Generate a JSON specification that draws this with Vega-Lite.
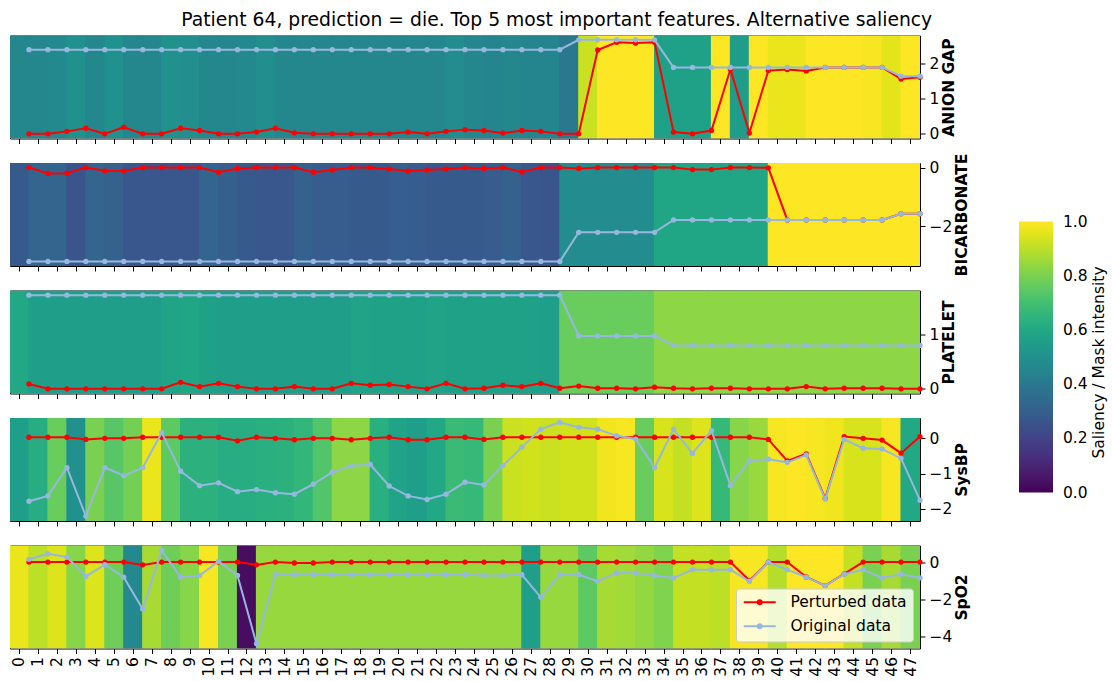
{
  "$schema": "https://vega.github.io/schema/vega-lite/v6.json",
  "padding": {"left": 9, "top": 10.5, "right": 0, "bottom": 0},
  "background": "white",
  "title": {"text": "Patient 64, prediction = die. Top 5 most important features. Alternative saliency", "fontSize": 18.75, "fontWeight": "normal", "font": "DejaVu Sans", "color": "#000", "offset": 5, "anchor": "middle", "dx": -2},
  "bounds": "flush",
  "spacing": 24.5,
  "datasets": {
    "ag": [
      {"t":0,"s":0.46,"p":0,"o":2.41},{"t":1,"s":0.46,"p":0,"o":2.41},{"t":2,"s":0.47,"p":0.07,"o":2.41},{"t":3,"s":0.5,"p":0.16,"o":2.41},
      {"t":4,"s":0.46,"p":0,"o":2.41},{"t":5,"s":0.5,"p":0.19,"o":2.41},{"t":6,"s":0.46,"p":0,"o":2.41},{"t":7,"s":0.46,"p":0,"o":2.41},
      {"t":8,"s":0.5,"p":0.16,"o":2.41},{"t":9,"s":0.49,"p":0.095,"o":2.41},{"t":10,"s":0.46,"p":0,"o":2.41},{"t":11,"s":0.46,"p":0,"o":2.41},
      {"t":12,"s":0.47,"p":0.05,"o":2.41},{"t":13,"s":0.49,"p":0.16,"o":2.41},{"t":14,"s":0.46,"p":0.03,"o":2.41},{"t":15,"s":0.46,"p":0,"o":2.41},
      {"t":16,"s":0.46,"p":0,"o":2.41},{"t":17,"s":0.46,"p":0,"o":2.41},{"t":18,"s":0.46,"p":0,"o":2.41},{"t":19,"s":0.46,"p":0,"o":2.41},
      {"t":20,"s":0.46,"p":0.05,"o":2.41},{"t":21,"s":0.46,"p":0,"o":2.41},{"t":22,"s":0.46,"p":0.07,"o":2.41},{"t":23,"s":0.48,"p":0.12,"o":2.41},
      {"t":24,"s":0.46,"p":0.095,"o":2.41},{"t":25,"s":0.45,"p":0.02,"o":2.41},{"t":26,"s":0.46,"p":0.095,"o":2.41},{"t":27,"s":0.45,"p":0.07,"o":2.41},
      {"t":28,"s":0.45,"p":0,"o":2.41},{"t":29,"s":0.4,"p":0,"o":2.69},{"t":30,"s":0.92,"p":2.4,"o":2.69},{"t":31,"s":1.0,"p":2.62,"o":2.69},
      {"t":32,"s":1.0,"p":2.6,"o":2.69},{"t":33,"s":1.0,"p":2.62,"o":2.69},{"t":34,"s":0.57,"p":0.05,"o":1.9},{"t":35,"s":0.57,"p":0,"o":1.9},
      {"t":36,"s":0.57,"p":0.095,"o":1.9},{"t":37,"s":1.0,"p":1.85,"o":1.9},{"t":38,"s":0.55,"p":0.02,"o":1.9},{"t":39,"s":1.0,"p":1.81,"o":1.9},
      {"t":40,"s":0.97,"p":1.84,"o":1.9},{"t":41,"s":0.97,"p":1.8,"o":1.9},{"t":42,"s":1.0,"p":1.9,"o":1.9},{"t":43,"s":1.0,"p":1.9,"o":1.9},
      {"t":44,"s":1.0,"p":1.9,"o":1.9},{"t":45,"s":0.99,"p":1.9,"o":1.9},{"t":46,"s":0.96,"p":1.57,"o":1.65},{"t":47,"s":1.0,"p":1.62,"o":1.65}
    ],
    "bi": [
      {"t":0,"s":0.28,"p":0,"o":-3.19},{"t":1,"s":0.32,"p":-0.2,"o":-3.19},{"t":2,"s":0.32,"p":-0.19,"o":-3.19},{"t":3,"s":0.26,"p":0,"o":-3.19},
      {"t":4,"s":0.32,"p":-0.11,"o":-3.19},{"t":5,"s":0.31,"p":-0.12,"o":-3.19},{"t":6,"s":0.27,"p":0,"o":-3.19},{"t":7,"s":0.27,"p":0,"o":-3.19},
      {"t":8,"s":0.27,"p":0,"o":-3.19},{"t":9,"s":0.27,"p":0,"o":-3.19},{"t":10,"s":0.32,"p":-0.16,"o":-3.19},{"t":11,"s":0.3,"p":-0.03,"o":-3.19},
      {"t":12,"s":0.28,"p":0,"o":-3.19},{"t":13,"s":0.27,"p":0,"o":-3.19},{"t":14,"s":0.27,"p":0,"o":-3.19},{"t":15,"s":0.31,"p":-0.16,"o":-3.19},
      {"t":16,"s":0.29,"p":-0.08,"o":-3.19},{"t":17,"s":0.29,"p":0,"o":-3.19},{"t":18,"s":0.28,"p":0,"o":-3.19},{"t":19,"s":0.28,"p":-0.05,"o":-3.19},
      {"t":20,"s":0.3,"p":-0.12,"o":-3.19},{"t":21,"s":0.29,"p":-0.08,"o":-3.19},{"t":22,"s":0.28,"p":-0.05,"o":-3.19},{"t":23,"s":0.28,"p":0,"o":-3.19},
      {"t":24,"s":0.28,"p":-0.03,"o":-3.19},{"t":25,"s":0.29,"p":0,"o":-3.19},{"t":26,"s":0.31,"p":-0.15,"o":-3.19},{"t":27,"s":0.27,"p":0,"o":-3.19},
      {"t":28,"s":0.26,"p":0,"o":-3.19},{"t":29,"s":0.48,"p":-0.03,"o":-2.2},{"t":30,"s":0.48,"p":0,"o":-2.2},{"t":31,"s":0.48,"p":0,"o":-2.2},
      {"t":32,"s":0.48,"p":0,"o":-2.2},{"t":33,"s":0.48,"p":0,"o":-2.2},{"t":34,"s":0.59,"p":0,"o":-1.78},{"t":35,"s":0.59,"p":-0.07,"o":-1.78},
      {"t":36,"s":0.59,"p":-0.07,"o":-1.78},{"t":37,"s":0.59,"p":0,"o":-1.78},{"t":38,"s":0.59,"p":0,"o":-1.78},{"t":39,"s":0.59,"p":-0.01,"o":-1.78},
      {"t":40,"s":1.0,"p":-1.78,"o":-1.78},{"t":41,"s":1.0,"p":-1.78,"o":-1.78},{"t":42,"s":1.0,"p":-1.78,"o":-1.78},{"t":43,"s":1.0,"p":-1.78,"o":-1.78},
      {"t":44,"s":1.0,"p":-1.78,"o":-1.78},{"t":45,"s":1.0,"p":-1.78,"o":-1.78},{"t":46,"s":1.0,"p":-1.57,"o":-1.57},{"t":47,"s":1.0,"p":-1.57,"o":-1.57}
    ],
    "pl": [
      {"t":0,"s":0.6,"p":0.09,"o":1.728},{"t":1,"s":0.56,"p":0,"o":1.728},{"t":2,"s":0.56,"p":0,"o":1.728},{"t":3,"s":0.56,"p":0,"o":1.728},
      {"t":4,"s":0.56,"p":0,"o":1.728},{"t":5,"s":0.56,"p":0,"o":1.728},{"t":6,"s":0.56,"p":0,"o":1.728},{"t":7,"s":0.56,"p":0,"o":1.728},
      {"t":8,"s":0.58,"p":0.12,"o":1.728},{"t":9,"s":0.59,"p":0.04,"o":1.728},{"t":10,"s":0.57,"p":0.1,"o":1.728},{"t":11,"s":0.56,"p":0.04,"o":1.728},
      {"t":12,"s":0.56,"p":0,"o":1.728},{"t":13,"s":0.56,"p":0,"o":1.728},{"t":14,"s":0.56,"p":0.04,"o":1.728},{"t":15,"s":0.56,"p":0,"o":1.728},
      {"t":16,"s":0.56,"p":0,"o":1.728},{"t":17,"s":0.56,"p":0.1,"o":1.728},{"t":18,"s":0.58,"p":0.065,"o":1.728},{"t":19,"s":0.57,"p":0.08,"o":1.728},
      {"t":20,"s":0.57,"p":0.04,"o":1.728},{"t":21,"s":0.57,"p":0,"o":1.728},{"t":22,"s":0.58,"p":0.1,"o":1.728},{"t":23,"s":0.57,"p":0,"o":1.728},
      {"t":24,"s":0.57,"p":0.01,"o":1.728},{"t":25,"s":0.57,"p":0.065,"o":1.728},{"t":26,"s":0.57,"p":0.04,"o":1.728},{"t":27,"s":0.57,"p":0.1,"o":1.728},
      {"t":28,"s":0.56,"p":0.01,"o":1.728},{"t":29,"s":0.77,"p":0.05,"o":0.975},{"t":30,"s":0.77,"p":0.01,"o":0.975},{"t":31,"s":0.77,"p":0.01,"o":0.975},
      {"t":32,"s":0.77,"p":0,"o":0.975},{"t":33,"s":0.77,"p":0.03,"o":0.975},{"t":34,"s":0.83,"p":0.01,"o":0.8},{"t":35,"s":0.83,"p":0,"o":0.8},
      {"t":36,"s":0.83,"p":0.01,"o":0.8},{"t":37,"s":0.83,"p":0.01,"o":0.8},{"t":38,"s":0.83,"p":0,"o":0.8},{"t":39,"s":0.83,"p":0,"o":0.8},
      {"t":40,"s":0.83,"p":0,"o":0.8},{"t":41,"s":0.83,"p":0.04,"o":0.8},{"t":42,"s":0.83,"p":0,"o":0.8},{"t":43,"s":0.83,"p":0.01,"o":0.8},
      {"t":44,"s":0.83,"p":0.01,"o":0.8},{"t":45,"s":0.83,"p":0.01,"o":0.8},{"t":46,"s":0.83,"p":0,"o":0.8},{"t":47,"s":0.83,"p":0,"o":0.8}
    ],
    "sb": [
      {"t":0,"s":0.56,"p":0.03,"o":-1.78},{"t":1,"s":0.62,"p":0.03,"o":-1.63},{"t":2,"s":0.77,"p":0.03,"o":-0.83},{"t":3,"s":0.5,"p":-0.03,"o":-2.2},
      {"t":4,"s":0.8,"p":0,"o":-0.83},{"t":5,"s":0.74,"p":0,"o":-1.06},{"t":6,"s":0.79,"p":0.03,"o":-0.83},{"t":7,"s":0.97,"p":0.03,"o":0.16},
      {"t":8,"s":0.75,"p":0.03,"o":-0.93},{"t":9,"s":0.64,"p":0.03,"o":-1.34},{"t":10,"s":0.64,"p":0.03,"o":-1.26},{"t":11,"s":0.62,"p":-0.07,"o":-1.51},
      {"t":12,"s":0.62,"p":0.03,"o":-1.45},{"t":13,"s":0.63,"p":0,"o":-1.54},{"t":14,"s":0.64,"p":-0.04,"o":-1.58},{"t":15,"s":0.66,"p":0,"o":-1.3},
      {"t":16,"s":0.73,"p":0,"o":-0.96},{"t":17,"s":0.83,"p":-0.04,"o":-0.78},{"t":18,"s":0.83,"p":0,"o":-0.74},{"t":19,"s":0.63,"p":0.03,"o":-1.35},
      {"t":20,"s":0.58,"p":-0.04,"o":-1.63},{"t":21,"s":0.56,"p":-0.04,"o":-1.73},{"t":22,"s":0.6,"p":0.03,"o":-1.58},{"t":23,"s":0.68,"p":0.03,"o":-1.24},
      {"t":24,"s":0.67,"p":-0.03,"o":-1.32},{"t":25,"s":0.8,"p":0.03,"o":-0.77},{"t":26,"s":0.92,"p":0.03,"o":-0.25},{"t":27,"s":0.93,"p":0.03,"o":0.26},
      {"t":28,"s":0.92,"p":0.03,"o":0.45},{"t":29,"s":0.93,"p":0.03,"o":0.31},{"t":30,"s":0.93,"p":0.03,"o":0.26},{"t":31,"s":0.98,"p":0.03,"o":0.07},
      {"t":32,"s":0.99,"p":0.03,"o":-0.02},{"t":33,"s":0.77,"p":0.03,"o":-0.83},{"t":34,"s":0.94,"p":0.03,"o":0.26},{"t":35,"s":0.91,"p":0.03,"o":-0.43},
      {"t":36,"s":0.95,"p":0.03,"o":0.22},{"t":37,"s":0.67,"p":0.03,"o":-1.34},{"t":38,"s":0.82,"p":0.03,"o":-0.64},{"t":39,"s":0.85,"p":-0.03,"o":-0.59},
      {"t":40,"s":0.99,"p":-0.64,"o":-0.68},{"t":41,"s":1.0,"p":-0.44,"o":-0.47},{"t":42,"s":0.99,"p":-1.7,"o":-1.72},{"t":43,"s":0.98,"p":0.05,"o":-0.03},
      {"t":44,"s":0.94,"p":0,"o":-0.28},{"t":45,"s":0.94,"p":-0.05,"o":-0.3},{"t":46,"s":0.99,"p":-0.42,"o":-0.57},{"t":47,"s":0.6,"p":0.05,"o":-1.75}
    ],
    "sp": [
      {"t":0,"s":0.97,"p":0,"o":0.15},{"t":1,"s":0.9,"p":0,"o":0.45},{"t":2,"s":0.95,"p":0,"o":0.27},{"t":3,"s":0.82,"p":0,"o":-0.77},
      {"t":4,"s":0.95,"p":0,"o":-0.14},{"t":5,"s":0.78,"p":0,"o":-0.81},{"t":6,"s":0.47,"p":-0.15,"o":-2.52},{"t":7,"s":0.87,"p":0,"o":0.63},
      {"t":8,"s":0.78,"p":0,"o":-0.81},{"t":9,"s":0.82,"p":0,"o":-0.72},{"t":10,"s":0.99,"p":0,"o":0.04},{"t":11,"s":0.8,"p":0,"o":-0.72},
      {"t":12,"s":0.03,"p":-0.15,"o":-4.38},{"t":13,"s":0.845,"p":0,"o":-0.68},{"t":14,"s":0.845,"p":-0.05,"o":-0.68},{"t":15,"s":0.845,"p":-0.05,"o":-0.68},
      {"t":16,"s":0.845,"p":0,"o":-0.68},{"t":17,"s":0.845,"p":0,"o":-0.68},{"t":18,"s":0.845,"p":0,"o":-0.68},{"t":19,"s":0.845,"p":0,"o":-0.68},
      {"t":20,"s":0.845,"p":0,"o":-0.68},{"t":21,"s":0.845,"p":0,"o":-0.68},{"t":22,"s":0.845,"p":0,"o":-0.68},{"t":23,"s":0.845,"p":0,"o":-0.68},
      {"t":24,"s":0.845,"p":0,"o":-0.72},{"t":25,"s":0.845,"p":0,"o":-0.72},{"t":26,"s":0.845,"p":0,"o":-0.68},{"t":27,"s":0.56,"p":0,"o":-1.89},
      {"t":28,"s":0.845,"p":0,"o":-0.68},{"t":29,"s":0.845,"p":0,"o":-0.68},{"t":30,"s":0.75,"p":0,"o":-1.03},{"t":31,"s":0.87,"p":0,"o":-0.58},
      {"t":32,"s":0.86,"p":0,"o":-0.58},{"t":33,"s":0.84,"p":0,"o":-0.72},{"t":34,"s":0.81,"p":0,"o":-0.85},{"t":35,"s":0.91,"p":0,"o":-0.41},
      {"t":36,"s":0.91,"p":0,"o":-0.41},{"t":37,"s":0.9,"p":0,"o":-0.41},{"t":38,"s":0.99,"p":-0.99,"o":-1.03},{"t":39,"s":0.99,"p":0,"o":0},
      {"t":40,"s":0.89,"p":0,"o":-0.41},{"t":41,"s":1.0,"p":-0.8,"o":-0.81},{"t":42,"s":1.0,"p":-1.26,"o":-1.26},{"t":43,"s":1.0,"p":-0.63,"o":-0.65},
      {"t":44,"s":0.91,"p":0,"o":-0.41},{"t":45,"s":0.8,"p":0,"o":-0.85},{"t":46,"s":0.87,"p":0,"o":-0.65},{"t":47,"s":0.8,"p":0,"o":-0.85}
    ]
  },
  "vconcat": [
    {
      "width": 910, "height": 103,
      "data": {"name": "ag"},
      "layer": [
        {"mark": {"type": "rect", "clip": true, "width": {"band": 1.06}},
         "encoding": {
           "x": {"field": "t", "type": "ordinal", "scale": {"paddingInner": 0, "paddingOuter": 0}, "axis": {"title": null, "labels": false}},
           "fill": {"field": "s", "type": "quantitative", "scale": {"scheme": "viridis", "domain": [0, 1]},
             "legend": {"type": "gradient", "orient": "none", "legendX": 1009, "legendY": 186, "direction": "vertical", "gradientLength": 271, "gradientThickness": 34, "gradientStrokeWidth": 0, "values": [0, 0.2, 0.4, 0.6, 0.8, 1], "format": ".1f", "labelFontSize": 15.5, "labelOffset": 10, "title": "Saliency / Mask intensity", "titleLimit": 500, "titleOrient": "right", "titleFontSize": 15.5, "titleFontWeight": "normal", "titleAnchor": "middle", "titlePadding": 8,
               "encoding": {"title": {"angle": {"value": 270}, "dy": {"value": 11}, "dx": {"value": -5}}, "labels": {"baseline": {"value": "middle"}}}}}
         }},
        {"mark": {"type": "line", "strokeWidth": 2, "point": {"filled": true, "size": 28}},
         "encoding": {
           "x": {"field": "t", "type": "quantitative", "scale": {"domain": [-1, 47], "nice": false, "zero": false}, "axis": null},
           "y": {"field": "p", "type": "quantitative", "scale": {"domain": [-0.134, 2.815], "nice": false, "zero": false}, "axis": {"orient": "right", "values": [0, 1, 2], "title": "ANION GAP"}},
           "color": {"datum": "Perturbed data", "type": "nominal", "scale": {"domain": ["Perturbed data", "Original data"], "range": ["#ff0000", "#96b8df"]},
             "legend": {"orient": "none", "legendX": 726, "legendY": 553, "title": null, "symbolType": "M-1.2,0H5.2M1.6,0A0.4,0.4,0,1,1,2.4,0A0.4,0.4,0,1,1,1.6,0", "symbolSize": 100, "symbolStrokeWidth": 2, "labelFontSize": 15.5, "labelOffset": 33, "padding": 6, "rowPadding": 7, "fillColor": "rgba(255,255,255,0.8)", "strokeColor": "#cccccc", "cornerRadius": 3, "labelLimit": 300}}
         }},
        {"mark": {"type": "line", "strokeWidth": 2, "point": {"filled": true, "size": 28}},
         "encoding": {
           "x": {"field": "t", "type": "quantitative", "scale": {"domain": [-1, 47], "nice": false, "zero": false}, "axis": null},
           "y": {"field": "o", "type": "quantitative"},
           "color": {"datum": "Original data", "type": "nominal"}
         }}
      ],
      "resolve": {"scale": {"x": "independent"}}
    },
    {
      "width": 910, "height": 103,
      "data": {"name": "bi"},
      "layer": [
        {"mark": {"type": "rect", "clip": true, "width": {"band": 1.06}},
         "encoding": {
           "x": {"field": "t", "type": "ordinal", "scale": {"paddingInner": 0, "paddingOuter": 0}, "axis": {"title": null, "labels": false}},
           "fill": {"field": "s", "type": "quantitative"}
         }},
        {"mark": {"type": "line", "strokeWidth": 2, "point": {"filled": true, "size": 28}},
         "encoding": {
           "x": {"field": "t", "type": "quantitative", "scale": {"domain": [-1, 47], "nice": false, "zero": false}, "axis": null},
           "y": {"field": "p", "type": "quantitative", "scale": {"domain": [-3.345, 0.155], "nice": false, "zero": false}, "axis": {"orient": "right", "values": [0, -2], "title": "BICARBONATE"}},
           "color": {"datum": "Perturbed data", "type": "nominal"}
         }},
        {"mark": {"type": "line", "strokeWidth": 2, "point": {"filled": true, "size": 28}},
         "encoding": {
           "x": {"field": "t", "type": "quantitative", "scale": {"domain": [-1, 47], "nice": false, "zero": false}, "axis": null},
           "y": {"field": "o", "type": "quantitative"},
           "color": {"datum": "Original data", "type": "nominal"}
         }}
      ],
      "resolve": {"scale": {"x": "independent"}}
    },
    {
      "width": 910, "height": 103,
      "data": {"name": "pl"},
      "layer": [
        {"mark": {"type": "rect", "clip": true, "width": {"band": 1.06}},
         "encoding": {
           "x": {"field": "t", "type": "ordinal", "scale": {"paddingInner": 0, "paddingOuter": 0}, "axis": {"title": null, "labels": false}},
           "fill": {"field": "s", "type": "quantitative"}
         }},
        {"mark": {"type": "line", "strokeWidth": 2, "point": {"filled": true, "size": 28}},
         "encoding": {
           "x": {"field": "t", "type": "quantitative", "scale": {"domain": [-1, 47], "nice": false, "zero": false}, "axis": null},
           "y": {"field": "p", "type": "quantitative", "scale": {"domain": [-0.087, 1.815], "nice": false, "zero": false}, "axis": {"orient": "right", "values": [0, 1], "title": "PLATELET"}},
           "color": {"datum": "Perturbed data", "type": "nominal"}
         }},
        {"mark": {"type": "line", "strokeWidth": 2, "point": {"filled": true, "size": 28}},
         "encoding": {
           "x": {"field": "t", "type": "quantitative", "scale": {"domain": [-1, 47], "nice": false, "zero": false}, "axis": null},
           "y": {"field": "o", "type": "quantitative"},
           "color": {"datum": "Original data", "type": "nominal"}
         }}
      ],
      "resolve": {"scale": {"x": "independent"}}
    },
    {
      "width": 910, "height": 103,
      "data": {"name": "sb"},
      "layer": [
        {"mark": {"type": "rect", "clip": true, "width": {"band": 1.06}},
         "encoding": {
           "x": {"field": "t", "type": "ordinal", "scale": {"paddingInner": 0, "paddingOuter": 0}, "axis": {"title": null, "labels": false}},
           "fill": {"field": "s", "type": "quantitative"}
         }},
        {"mark": {"type": "line", "strokeWidth": 2, "point": {"filled": true, "size": 28}},
         "encoding": {
           "x": {"field": "t", "type": "quantitative", "scale": {"domain": [-1, 47], "nice": false, "zero": false}, "axis": null},
           "y": {"field": "p", "type": "quantitative", "scale": {"domain": [-2.34, 0.575], "nice": false, "zero": false}, "axis": {"orient": "right", "values": [0, -1, -2], "title": "SysBP"}},
           "color": {"datum": "Perturbed data", "type": "nominal"}
         }},
        {"mark": {"type": "line", "strokeWidth": 2, "point": {"filled": true, "size": 28}},
         "encoding": {
           "x": {"field": "t", "type": "quantitative", "scale": {"domain": [-1, 47], "nice": false, "zero": false}, "axis": null},
           "y": {"field": "o", "type": "quantitative"},
           "color": {"datum": "Original data", "type": "nominal"}
         }}
      ],
      "resolve": {"scale": {"x": "independent"}}
    },
    {
      "width": 910, "height": 103,
      "data": {"name": "sp"},
      "layer": [
        {"mark": {"type": "rect", "clip": true, "width": {"band": 1.06}},
         "encoding": {
           "x": {"field": "t", "type": "ordinal", "scale": {"paddingInner": 0, "paddingOuter": 0}, "axis": {"title": null, "labelAngle": 270, "labelPadding": 3}},
           "fill": {"field": "s", "type": "quantitative"}
         }},
        {"mark": {"type": "line", "strokeWidth": 2, "point": {"filled": true, "size": 28}},
         "encoding": {
           "x": {"field": "t", "type": "quantitative", "scale": {"domain": [-1, 47], "nice": false, "zero": false}, "axis": null},
           "y": {"field": "p", "type": "quantitative", "scale": {"domain": [-4.64, 0.89], "nice": false, "zero": false}, "axis": {"orient": "right", "values": [0, -2, -4], "title": "SpO2"}},
           "color": {"datum": "Perturbed data", "type": "nominal"}
         }},
        {"mark": {"type": "line", "strokeWidth": 2, "point": {"filled": true, "size": 28}},
         "encoding": {
           "x": {"field": "t", "type": "quantitative", "scale": {"domain": [-1, 47], "nice": false, "zero": false}, "axis": null},
           "y": {"field": "o", "type": "quantitative"},
           "color": {"datum": "Original data", "type": "nominal"}
         }}
      ],
      "resolve": {"scale": {"x": "independent"}}
    }
  ],
  "resolve": {"scale": {"fill": "shared", "color": "shared"}},
  "config": {
    "font": "DejaVu Sans",
    "view": {"stroke": "#000", "strokeWidth": 1},
    "axis": {"domain": false, "grid": false, "tickColor": "#000", "tickSize": 5, "tickWidth": 1, "labelColor": "#000", "labelFont": "DejaVu Sans", "labelFontSize": 15.5, "labelPadding": 4, "titleColor": "#000", "titleFont": "DejaVu Sans"},
    "axisY": {"format": "d", "titleFontWeight": "bold", "titleFontSize": 15.5, "titleAngle": 270, "titleBaseline": "top", "titlePadding": 3},
    "legend": {"labelColor": "#000", "labelFont": "DejaVu Sans", "titleColor": "#000", "titleFont": "DejaVu Sans"}
  }
}
